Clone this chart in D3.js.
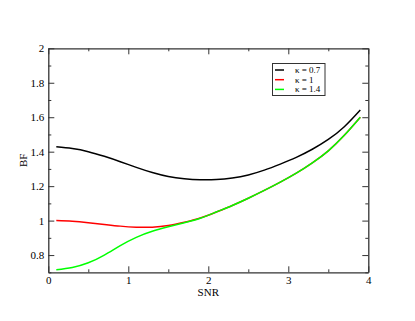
<!DOCTYPE html>
<html>
<head>
<meta charset="utf-8">
<script src="https://cdn.jsdelivr.net/npm/d3@7"></script>
<style>
  body { margin: 0; background: #fff; }
  text { font-family: "Liberation Serif", "Times New Roman", serif; fill: #000; }
</style>
</head>
<body>
<svg id="chart"></svg>
<script>
const width = 415;
const height = 321;
const margin = {left: 48.3, right: 415 - 368.3, top: 48.3, bottom: 321 - 272.3};

const snr = [0.1, 0.3, 0.5, 0.7, 0.9, 1.1, 1.3, 1.5, 1.7, 1.9, 2.1, 2.3, 2.5, 2.7, 2.9, 3.1, 3.3, 3.5, 3.7, 3.9];
const bfK07 = [1.428, 1.418, 1.400, 1.373, 1.342, 1.309, 1.279, 1.256, 1.243, 1.237, 1.238, 1.247, 1.265, 1.293, 1.328, 1.367, 1.414, 1.471, 1.545, 1.642];
const bfK1 = [1.0, 0.996, 0.988, 0.978, 0.968, 0.962, 0.962, 0.971, 0.99, 1.015, 1.05, 1.088, 1.13, 1.175, 1.223, 1.275, 1.335, 1.405, 1.495, 1.60];
const bfK14 = [0.715, 0.728, 0.755, 0.80, 0.855, 0.903, 0.938, 0.964, 0.988, 1.014, 1.05, 1.088, 1.13, 1.175, 1.223, 1.275, 1.335, 1.405, 1.495, 1.60];
const seriesNames = ['κ = 0.7', 'κ = 1', 'κ = 1.4'];
const seriesColors = ['#000000', '#ff0000', '#00ff00'];
const xTicks = [0, 1, 2, 3, 4];
const yTicks = [0.8, 1, 1.2, 1.4, 1.6, 1.8, 2];

window.onload = () => {
  const svg = d3.select('#chart')
      .attr('width', width)
      .attr('height', height);

  const x = d3.scaleLinear().domain([0, 4]).range([margin.left, width - margin.right]);
  const y = d3.scaleLinear().domain([0.7, 2]).range([height - margin.bottom, margin.top]);

  const xMinor = d3.range(0.5, 4, 1);
  const yMinor = d3.range(0.7, 2.0, 0.2).map(v => +v.toFixed(1));

  const axisColor = '#333';

  // bottom axis
  const gB = svg.append('g').attr('transform', `translate(0,${y(0.7)})`)
    .call(d3.axisBottom(x).tickValues(xTicks).tickFormat(d3.format('d')).tickSizeInner(-6).tickSizeOuter(0).tickPadding(4));
  gB.append('g').call(d3.axisBottom(x).tickValues(xMinor).tickFormat('').tickSizeInner(-3).tickSizeOuter(0))
    .select('.domain').remove();

  // top axis
  const gT = svg.append('g').attr('transform', `translate(0,${y(2)})`)
    .call(d3.axisTop(x).tickValues(xTicks).tickFormat('').tickSizeInner(-6).tickSizeOuter(0));
  gT.append('g').call(d3.axisTop(x).tickValues(xMinor).tickFormat('').tickSizeInner(-3).tickSizeOuter(0))
    .select('.domain').remove();

  // left axis
  const gL = svg.append('g').attr('transform', `translate(${x(0)},0)`)
    .call(d3.axisLeft(y).tickValues(yTicks).tickFormat(d => d === 1 || d === 2 ? d3.format('d')(d) : d3.format('.1f')(d)).tickSizeInner(-6).tickSizeOuter(0).tickPadding(4));
  gL.append('g').call(d3.axisLeft(y).tickValues(yMinor).tickFormat('').tickSizeInner(-3).tickSizeOuter(0))
    .select('.domain').remove();

  // right axis
  const gR = svg.append('g').attr('transform', `translate(${x(4)},0)`)
    .call(d3.axisRight(y).tickValues(yTicks).tickFormat('').tickSizeInner(-6).tickSizeOuter(0));
  gR.append('g').call(d3.axisRight(y).tickValues(yMinor).tickFormat('').tickSizeInner(-3).tickSizeOuter(0))
    .select('.domain').remove();

  svg.selectAll('.domain').attr('stroke', axisColor).attr('stroke-width', 1.3);
  svg.selectAll('.tick line').attr('stroke', axisColor).attr('stroke-width', 1);
  svg.selectAll('g').attr('font-family', null);
  svg.selectAll('.tick text')
    .style('font-family', '"Liberation Serif", "Times New Roman", serif')
    .style('font-size', '11px')
    .attr('fill', '#000');

  // curves
  const line = d3.line()
    .x(d => x(d[0]))
    .y(d => y(d[1]))
    .curve(d3.curveNatural);

  [bfK07, bfK1, bfK14].forEach((vals, i) => {
    svg.append('path')
      .datum(snr.map((s, j) => [s, vals[j]]))
      .attr('fill', 'none')
      .attr('stroke', seriesColors[i])
      .attr('stroke-width', 1.5)
      .attr('d', line);
  });

  // axis labels
  svg.append('text')
    .attr('x', (x(0) + x(4)) / 2)
    .attr('y', 296)
    .attr('text-anchor', 'middle')
    .style('font-size', '11px')
    .text('SNR');

  svg.append('text')
    .attr('transform', `translate(27,${(y(0.7) + y(2)) / 2}) rotate(-90)`)
    .attr('text-anchor', 'middle')
    .style('font-size', '11px')
    .text('BF');

  // legend
  const lg = svg.append('g');
  lg.append('rect')
    .attr('x', 272.5).attr('y', 63.5)
    .attr('width', 52.5).attr('height', 32)
    .attr('fill', '#fff')
    .attr('stroke', axisColor)
    .attr('stroke-width', 1);
  seriesNames.forEach((name, i) => {
    const ly = 70 + i * 9.7;
    lg.append('line')
      .attr('x1', 275).attr('x2', 284)
      .attr('y1', ly).attr('y2', ly)
      .attr('stroke', seriesColors[i])
      .attr('stroke-width', 1.5);
    lg.append('text')
      .attr('x', 295).attr('y', ly + 3)
      .style('font-size', '9px')
      .text(name);
  });
};
</script>
</body>
</html>
